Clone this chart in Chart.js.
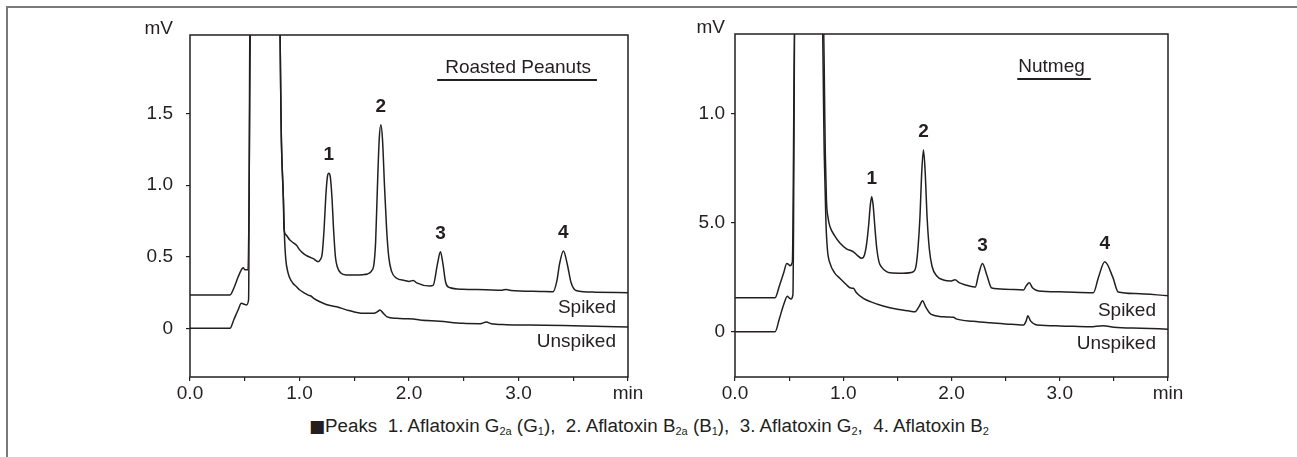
<!DOCTYPE html>
<html>
<head>
<meta charset="utf-8">
<script src="https://cdn.jsdelivr.net/npm/chart.js@4.4.1/dist/chart.umd.min.js"></script>
<style>
  html, body { margin: 0; padding: 0; background: #fff; }
  body { width: 1297px; height: 457px; position: relative; overflow: hidden;
         font-family: "Liberation Sans", Arial, sans-serif; color: #231f20; }
  #frame { position: absolute; left: 6px; top: 6px; right: -10px; bottom: -10px;
           border-top: 2px solid #7a7a7a; border-left: 2px solid #7a7a7a; }
  canvas { position: absolute; top: 0; }
  #peanuts { left: 130px; }
  #nutmeg { left: 670px; }
  #caption { position: absolute; left: 309px; top: 416px; font-size: 18.8px; line-height: 20px; white-space: nowrap; }
  #caption .mark { font-family: "DejaVu Sans", sans-serif; font-size: 17px; }
  #caption sub { font-size: 11px; vertical-align: baseline; position: relative; top: 3px; line-height: 0; }
</style>
</head>
<body>
<div id="frame"></div>
<canvas id="peanuts" width="520" height="410"></canvas>
<canvas id="nutmeg" width="520" height="410"></canvas>
<div id="caption"><span class="mark">■</span>Peaks&nbsp; 1. Aflatoxin G<sub>2a</sub> (G<sub>1</sub>),&nbsp; 2. Aflatoxin B<sub>2a</sub> (B<sub>1</sub>),&nbsp; 3. Aflatoxin G<sub>2</sub>,&nbsp; 4. Aflatoxin B<sub>2</sub></div>
<script>
const INK = '#231f20';
const FONT = '"Liberation Sans", Arial, sans-serif';

// time axis (min), same for both panels
const timeTickValues = [0, 0.5, 1, 1.5, 2, 2.5, 3, 3.5, 4];
const timeTickLabels = ['0.0', '', '1.0', '', '2.0', '', '3.0', '', 'min'];
const peakNames = ['1', '2', '3', '4'];

// Roasted peanuts (mV)
const peanutTickValues = [0, 0.5, 1.0, 1.5];
const peanutTickLabels = ['0', '0.5', '1.0', '1.5'];
const peanutPeakTimes = [1.268, 1.743, 2.287, 3.41];
const peanutSpikedTime = [0, 0.365, 0.40, 0.44, 0.47, 0.486, 0.50, 0.53, 0.56, 0.81, 0.835, 0.853, 0.858, 0.875, 0.912, 0.94, 0.973, 1.0, 1.034, 1.06, 1.095, 1.13, 1.17, 1.19, 1.207, 1.225, 1.24, 1.255, 1.268, 1.281, 1.296, 1.312, 1.328, 1.345, 1.38, 1.43, 1.50, 1.58, 1.62, 1.657, 1.68, 1.695, 1.71, 1.728, 1.743, 1.758, 1.776, 1.795, 1.815, 1.84, 1.886, 1.96, 2.0, 2.04, 2.07, 2.19, 2.22, 2.26, 2.287, 2.31, 2.335, 2.37, 2.49, 2.70, 2.85, 2.888, 2.93, 3.20, 3.315, 3.35, 3.375, 3.41, 3.445, 3.48, 3.525, 3.70, 4.0];
const peanutSpikedSignal = [0.233, 0.233, 0.28, 0.36, 0.41, 0.424, 0.41, 0.41, 2.6, 2.6, 1.3, 0.9, 0.70, 0.655, 0.617, 0.60, 0.58, 0.55, 0.524, 0.51, 0.497, 0.485, 0.466, 0.48, 0.52, 0.70, 0.92, 1.06, 1.084, 1.06, 0.92, 0.68, 0.50, 0.43, 0.385, 0.373, 0.372, 0.375, 0.38, 0.40, 0.45, 0.6, 0.95, 1.32, 1.422, 1.32, 1.0, 0.70, 0.5, 0.40, 0.35, 0.335, 0.328, 0.335, 0.318, 0.296, 0.30, 0.45, 0.536, 0.45, 0.32, 0.285, 0.273, 0.27, 0.267, 0.272, 0.265, 0.258, 0.256, 0.33, 0.45, 0.54, 0.45, 0.32, 0.265, 0.253, 0.249];
const peanutUnspikedTime = [0, 0.365, 0.40, 0.44, 0.469, 0.49, 0.515, 0.535, 0.55, 0.81, 0.835, 0.853, 0.862, 0.875, 0.895, 0.912, 0.94, 0.973, 1.0, 1.05, 1.08, 1.10, 1.13, 1.186, 1.25, 1.339, 1.45, 1.58, 1.68, 1.715, 1.734, 1.76, 1.80, 1.886, 1.96, 2.04, 2.10, 2.28, 2.49, 2.65, 2.707, 2.75, 2.888, 3.10, 3.41, 3.70, 4.0];
const peanutUnspikedSignal = [0, 0, 0.06, 0.13, 0.175, 0.17, 0.163, 0.2, 2.6, 2.6, 1.3, 0.9, 0.66, 0.48, 0.39, 0.35, 0.315, 0.291, 0.27, 0.245, 0.232, 0.228, 0.21, 0.186, 0.165, 0.151, 0.125, 0.105, 0.105, 0.118, 0.128, 0.11, 0.08, 0.07, 0.067, 0.065, 0.058, 0.05, 0.035, 0.033, 0.044, 0.032, 0.026, 0.023, 0.02, 0.015, 0.01];

// Nutmeg (tick labels as printed)
const nutmegTickValues = [0, 0.5, 1.0];
const nutmegTickLabels = ['0', '5.0', '1.0'];
const nutmegPeakTimes = [1.263, 1.741, 2.286, 3.416];
const nutmegSpikedTime = [0, 0.37, 0.41, 0.45, 0.478, 0.495, 0.508, 0.53, 0.555, 0.81, 0.835, 0.845, 0.86, 0.878, 0.92, 0.971, 1.03, 1.094, 1.13, 1.17, 1.195, 1.215, 1.235, 1.25, 1.263, 1.276, 1.292, 1.31, 1.33, 1.356, 1.40, 1.432, 1.55, 1.648, 1.672, 1.69, 1.708, 1.726, 1.741, 1.756, 1.775, 1.795, 1.82, 1.864, 1.926, 1.99, 2.033, 2.07, 2.2, 2.22, 2.249, 2.286, 2.326, 2.372, 2.50, 2.665, 2.69, 2.718, 2.75, 2.806, 3.0, 3.311, 3.358, 3.416, 3.49, 3.54, 3.7, 4.0];
const nutmegSpikedSignal = [0.156, 0.156, 0.21, 0.27, 0.313, 0.308, 0.302, 0.32, 1.6, 1.6, 0.8, 0.6, 0.52, 0.481, 0.44, 0.405, 0.38, 0.366, 0.35, 0.336, 0.35, 0.40, 0.49, 0.58, 0.618, 0.58, 0.48, 0.38, 0.32, 0.295, 0.275, 0.27, 0.268, 0.275, 0.30, 0.38, 0.52, 0.74, 0.832, 0.74, 0.52, 0.38, 0.30, 0.255, 0.237, 0.232, 0.238, 0.225, 0.206, 0.205, 0.26, 0.313, 0.26, 0.2, 0.195, 0.191, 0.21, 0.224, 0.2, 0.187, 0.183, 0.179, 0.25, 0.32, 0.25, 0.182, 0.175, 0.165];
const nutmegUnspikedTime = [0, 0.37, 0.41, 0.45, 0.484, 0.50, 0.518, 0.535, 0.555, 0.80, 0.825, 0.84, 0.855, 0.878, 0.92, 0.971, 1.03, 1.07, 1.094, 1.12, 1.186, 1.25, 1.368, 1.50, 1.60, 1.664, 1.70, 1.733, 1.76, 1.80, 1.833, 1.95, 2.018, 2.05, 2.20, 2.357, 2.50, 2.665, 2.69, 2.705, 2.73, 2.79, 3.0, 3.28, 3.40, 3.50, 3.75, 4.0];
const nutmegUnspikedSignal = [0, 0, 0.06, 0.125, 0.163, 0.155, 0.15, 0.17, 1.6, 1.6, 0.8, 0.5, 0.37, 0.313, 0.27, 0.244, 0.215, 0.20, 0.199, 0.18, 0.153, 0.138, 0.118, 0.103, 0.096, 0.092, 0.115, 0.142, 0.115, 0.085, 0.076, 0.068, 0.066, 0.058, 0.048, 0.041, 0.036, 0.031, 0.05, 0.073, 0.05, 0.031, 0.027, 0.023, 0.028, 0.021, 0.016, 0.012];

const toPoints = (t, s) => t.map((v, i) => ({ x: v, y: s[i] }));

// frame, unit, title, series names and peak numbers
const decorations = {
    id: 'decorations',
    afterDatasetsDraw(chart, args, opts) {
        const { ctx, chartArea: a, scales: { x, y } } = chart;
        ctx.save();
        ctx.strokeStyle = INK;
        ctx.fillStyle = INK;
        ctx.lineWidth = 1.5;
        ctx.strokeRect(a.left, a.top, a.right - a.left, a.bottom - a.top);

        ctx.font = `19px ${FONT}`;
        ctx.textAlign = 'right';
        ctx.textBaseline = 'middle';
        ctx.fillText('mV', a.left - opts.unitGap, a.top - 6);

        ctx.textAlign = 'center';
        const tx = a.left + (a.right - a.left) * opts.titlePos;
        ctx.fillText(opts.title, tx, a.top + 33);
        const w = ctx.measureText(opts.title).width;
        ctx.lineWidth = 2;
        ctx.beginPath();
        ctx.moveTo(tx - w / 2 - opts.underlineLeft, a.top + 45);
        ctx.lineTo(tx + w / 2 + 6, a.top + 45);
        ctx.stroke();

        ctx.textAlign = 'right';
        chart.data.datasets.forEach(ds => {
            const last = ds.data[ds.data.length - 1];
            ctx.fillText(ds.label, a.right - 12, y.getPixelForValue(last.y) + 15);
        });

        ctx.font = `bold 19px ${FONT}`;
        ctx.textAlign = 'center';
        const spiked = chart.data.datasets[0].data;
        opts.peakTimes.forEach((t, i) => {
            const apex = spiked.find(p => p.x === t);
            ctx.fillText(peakNames[i], x.getPixelForValue(t), y.getPixelForValue(apex.y) - 18);
        });
        ctx.restore();
    }
};

function traceStyle() {
    return { borderColor: INK, borderWidth: 1.5, pointRadius: 0, fill: false, cubicInterpolationMode: 'monotone' };
}

function makeChart(id, cfg) {
    return new Chart(document.getElementById(id), {
        type: 'line',
        data: {
            datasets: [
                { label: 'Spiked', data: toPoints(cfg.spikedTime, cfg.spikedSignal), ...traceStyle() },
                { label: 'Unspiked', data: toPoints(cfg.unspikedTime, cfg.unspikedSignal), ...traceStyle() }
            ]
        },
        options: {
            responsive: false,
            animation: false,
            layout: { padding: { left: 0, right: 22, top: cfg.top, bottom: 0 } },
            plugins: {
                legend: { display: false },
                tooltip: { enabled: false },
                decorations: {
                    title: cfg.title, titlePos: cfg.titlePos, underlineLeft: cfg.underlineLeft,
                    unitGap: cfg.unitGap, peakTimes: cfg.peakTimes
                }
            },
            scales: {
                x: {
                    type: 'linear', min: 0, max: 4,
                    afterFit: s => { s.height = 33; },
                    afterBuildTicks: s => { s.ticks = timeTickValues.map(v => ({ value: v })); },
                    ticks: {
                        autoSkip: false, maxRotation: 0, padding: 1, color: INK,
                        font: { family: FONT, size: 19 },
                        callback: (v, i) => timeTickLabels[i]
                    },
                    grid: { drawOnChartArea: false, tickLength: 4, color: INK, lineWidth: 1.2 },
                    border: { display: false }
                },
                y: {
                    min: cfg.yMin, max: cfg.yMax,
                    afterFit: s => { s.width = cfg.axisWidth; },
                    afterBuildTicks: s => { s.ticks = cfg.tickValues.map(v => ({ value: v })); },
                    ticks: {
                        padding: cfg.tickPad, color: INK,
                        font: { family: FONT, size: 19 },
                        callback: (v, i) => cfg.tickLabels[i]
                    },
                    grid: { drawOnChartArea: false, tickLength: 4, color: INK, lineWidth: 1.2 },
                    border: { display: false }
                }
            }
        },
        plugins: [decorations]
    });
}

makeChart('peanuts', {
    title: 'Roasted Peanuts', titlePos: 0.749, underlineLeft: 8, unitGap: 17,
    top: 35, axisWidth: 60, tickPad: 13, yMin: -0.34, yMax: 2.05,
    tickValues: peanutTickValues, tickLabels: peanutTickLabels, peakTimes: peanutPeakTimes,
    spikedTime: peanutSpikedTime, spikedSignal: peanutSpikedSignal,
    unspikedTime: peanutUnspikedTime, unspikedSignal: peanutUnspikedSignal
});

makeChart('nutmeg', {
    title: 'Nutmeg', titlePos: 0.731, underlineLeft: 1, unitGap: 10,
    top: 34, axisWidth: 65, tickPad: 6, yMin: -0.207, yMax: 1.363,
    tickValues: nutmegTickValues, tickLabels: nutmegTickLabels, peakTimes: nutmegPeakTimes,
    spikedTime: nutmegSpikedTime, spikedSignal: nutmegSpikedSignal,
    unspikedTime: nutmegUnspikedTime, unspikedSignal: nutmegUnspikedSignal
});
</script>
</body>
</html>
